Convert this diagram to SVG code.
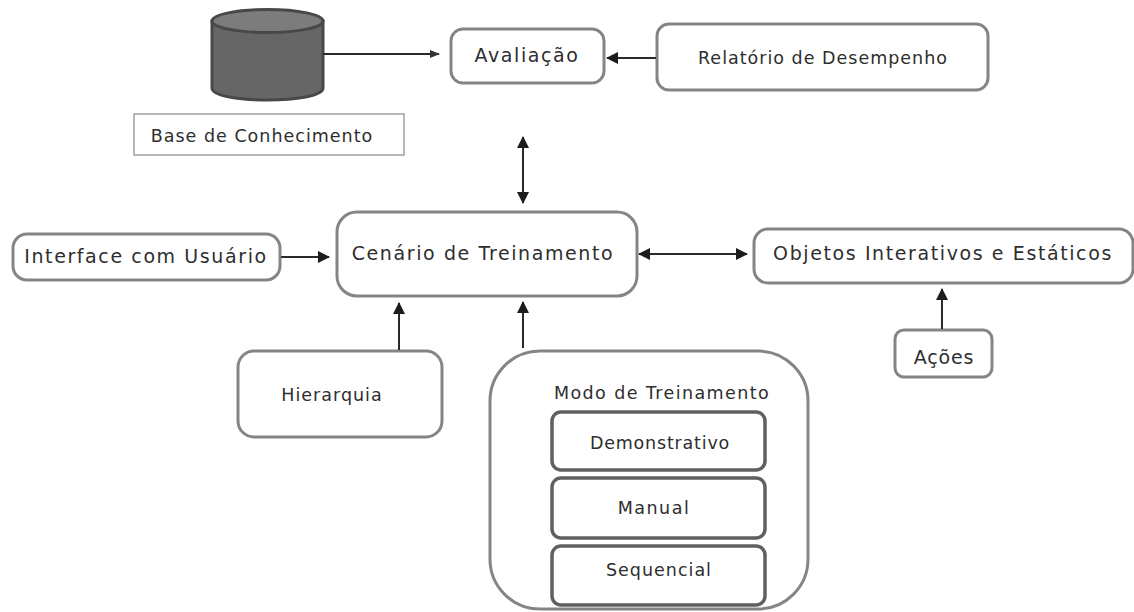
<svg xmlns="http://www.w3.org/2000/svg" width="1134" height="612" viewBox="0 0 1134 612">
<defs>
<marker id="a" markerWidth="13" markerHeight="12" refX="11" refY="6" orient="auto-start-reverse" markerUnits="userSpaceOnUse"><path d="M0 0L12 6L0 12z" fill="#1c1c1c"/></marker>
<marker id="s" markerWidth="10" markerHeight="8" refX="9" refY="4" orient="auto" markerUnits="userSpaceOnUse"><path d="M0 0L10 4L0 8z" fill="#333"/></marker>
</defs>
<style>
.n{fill:#fff;stroke:#858585;stroke-width:3}
.in{fill:#fff;stroke:#606060;stroke-width:3.5}
text{font-family:"DejaVu Sans",sans-serif;fill:#2e2e2e;text-anchor:middle}
.l{font-size:19px;letter-spacing:1.6px}
.m{font-size:17.5px;letter-spacing:1px}
.c{stroke:#2a2a2a;stroke-width:2;fill:none}
</style>
<rect width="1134" height="612" fill="#fff"/>
<g id="base-cyl"><path d="M212 21V88C212 104 323 104 323 88V21z" fill="#666" stroke="#484848" stroke-width="3"/><ellipse cx="267.500" cy="21" rx="55.500" ry="11.500" fill="#7c7c7c" stroke="#484848" stroke-width="3"/></g>
<g id="base-label"><rect x="134" y="114" width="270" height="41" fill="#fff" stroke="#a0a0a0" stroke-width="1.500"/><text class="m" x="262" y="142">Base de Conhecimento</text></g>
<g id="avaliacao"><rect class="n" x="451" y="29" width="153" height="54" rx="12"/><text class="l" x="527" y="62">Avaliação</text></g>
<g id="relatorio"><rect class="n" x="657" y="24" width="331" height="66" rx="12"/><text class="m" x="823" y="64">Relatório de Desempenho</text></g>
<g id="cenario"><rect class="n" x="337" y="212" width="300" height="84" rx="20"/><text class="l" x="483" y="260">Cenário de Treinamento</text></g>
<g id="interface"><rect class="n" x="13" y="234" width="267" height="46" rx="14"/><text class="l" x="146" y="263">Interface com Usuário</text></g>
<g id="objetos"><rect class="n" x="754" y="229" width="379" height="54" rx="14"/><text class="l" x="943" y="260">Objetos Interativos e Estáticos</text></g>
<g id="acoes"><rect class="n" x="895" y="330" width="97" height="47" rx="9"/><text class="l" x="944" y="364" style="letter-spacing:.8px">Ações</text></g>
<g id="hierarquia"><rect class="n" x="238" y="351" width="204" height="86" rx="16"/><text class="m" x="332" y="401">Hierarquia</text></g>
<g id="modo"><rect class="n" x="490" y="351" width="318" height="258" rx="50"/><text class="m" x="662" y="399" style="letter-spacing:1.4px">Modo de Treinamento</text></g>
<g id="demonstrativo"><rect class="in" x="552" y="412" width="213" height="58" rx="9"/><text class="m" x="660" y="449" style="letter-spacing:.8px">Demonstrativo</text></g>
<g id="manual"><rect class="in" x="552" y="478" width="213" height="60" rx="9"/><text class="m" x="654" y="514" style="letter-spacing:1.5px">Manual</text></g>
<g id="sequencial"><rect class="in" x="552" y="546" width="213" height="59" rx="9"/><text class="m" x="659" y="576">Sequencial</text></g>
<g id="connectors">
<path class="c" d="M323 54H439" marker-end="url(#s)"/>
<path class="c" d="M656 58H607" marker-end="url(#a)"/>
<path class="c" d="M523 137V203" marker-start="url(#a)" marker-end="url(#a)"/>
<path class="c" d="M281 257H329" marker-end="url(#a)"/>
<path class="c" d="M639 254H747" marker-start="url(#a)" marker-end="url(#a)"/>
<path class="c" d="M399 350V303" marker-end="url(#a)"/>
<path class="c" d="M523 348V302" marker-end="url(#a)"/>
<path class="c" d="M942 329V289" marker-end="url(#a)"/>
</g>
</svg>
